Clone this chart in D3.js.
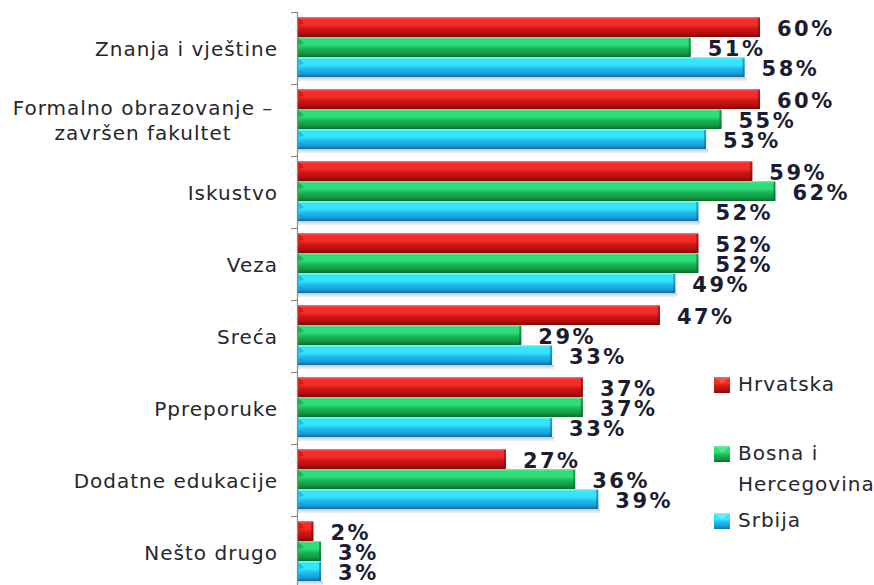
<!DOCTYPE html>
<html>
<head>
<meta charset="utf-8">
<script src="https://cdn.jsdelivr.net/npm/d3@7/dist/d3.min.js"></script>
<style>
  html, body { margin: 0; padding: 0; background: #fff; }
  svg { display: block; }
</style>
</head>
<body>
<svg id="chart" width="874" height="585"></svg>
<script>
// Category labels (multi-line where the label wraps)
const categories = [
  ["Znanja i vještine"],
  ["Formalno obrazovanje –", "završen fakultet"],
  ["Iskustvo"],
  ["Veza"],
  ["Sreća"],
  ["Ppreporuke"],
  ["Dodatne edukacije"],
  ["Nešto drugo"]
];
const seriesNames = ["Hrvatska", "Bosna i Hercegovina", "Srbija"];
const hrvatska = [60, 60, 59, 52, 47, 37, 27, 2];
const bih      = [51, 55, 62, 52, 29, 37, 36, 3];
const srbija   = [58, 53, 52, 49, 33, 33, 39, 3];
const series = [hrvatska, bih, srbija];

const palette = [
  { light: "#ff6a6a", top: "#f42c2c", mid: "#d41818", dark: "#ad0e0e", edge: "#7e0808" },
  { light: "#6ef0a4", top: "#2edc78", mid: "#1cb85a", dark: "#12933e", edge: "#0c6a2c" },
  { light: "#8af8ff", top: "#34e6fc", mid: "#20c4ee", dark: "#1897d2", edge: "#0e6c9e" }
];

const FONT = "DejaVu Sans, Verdana, sans-serif";
const svg = d3.select("#chart");
const defs = svg.append("defs");

palette.forEach((p, i) => {
  const g = defs.append("linearGradient")
    .attr("id", "bar" + i).attr("x1", 0).attr("y1", 0).attr("x2", 0).attr("y2", 1);
  [[0, p.light], [0.12, p.top], [0.4, p.top], [0.55, p.mid], [0.85, p.dark], [1, p.edge]]
    .forEach(([o, c]) => g.append("stop").attr("offset", o).attr("stop-color", c));
});
const sh = defs.append("linearGradient")
  .attr("id", "shadow").attr("x1", 0).attr("y1", 0).attr("x2", 0).attr("y2", 1);
sh.append("stop").attr("offset", 0).attr("stop-color", "#c8c8c8");
sh.append("stop").attr("offset", 1).attr("stop-color", "#ffffff");

const axisX = 297;
const x = d3.scaleLinear().domain([0, 100]).range([axisX + 1, axisX + 771]);
const y = d3.scaleBand().domain(d3.range(categories.length)).range([12, 12 + 72 * categories.length]);
const barH = 20;
const barTop = 5;

// bar groups
const groups = svg.append("g").selectAll("g")
  .data(categories.map((c, i) => i))
  .join("g")
  .attr("transform", i => `translate(0,${y(i)})`);

// soft shadow under each group
groups.append("rect")
  .attr("x", x(0))
  .attr("y", barTop + 3 * barH)
  .attr("width", i => x(series[2][i]) - x(0) + 2)
  .attr("height", 5)
  .attr("fill", "url(#shadow)");

series.forEach((vals, si) => {
  const p = palette[si];
  const bars = groups.append("g")
    .attr("transform", `translate(0,${barTop + si * barH})`);
  bars.append("rect")
    .attr("x", x(0))
    .attr("y", 0)
    .attr("width", i => x(vals[i]) - x(0))
    .attr("height", barH)
    .attr("fill", `url(#bar${si})`);
  // left bevel
  bars.append("path")
    .attr("d", i => `M${x(0)},1 L${x(0) + 6},6 L${x(0)},9 Z`)
    .attr("fill", p.dark).attr("opacity", 0.55);
  // right end edge
  bars.append("rect")
    .attr("x", i => x(vals[i]) - 2)
    .attr("y", 1)
    .attr("width", 2)
    .attr("height", barH - 2)
    .attr("fill", p.edge).attr("opacity", 0.6);
  // value labels
  bars.append("text")
    .attr("x", i => x(vals[i]) + 17)
    .attr("y", barH / 2 + 3)
    .attr("dominant-baseline", "middle")
    .attr("font-family", FONT)
    .attr("font-weight", "bold")
    .attr("font-size", 21)
    .attr("letter-spacing", 2.5)
    .attr("fill", "#1c1c30")
    .text(i => vals[i] + "%");
});

// axis
svg.append("line")
  .attr("x1", axisX + 0.5).attr("x2", axisX + 0.5)
  .attr("y1", 12).attr("y2", 585)
  .attr("stroke", "#8a8a8a").attr("stroke-width", 1.2);
svg.append("g").selectAll("line")
  .data(d3.range(categories.length + 1))
  .join("line")
  .attr("x1", axisX - 6).attr("x2", axisX)
  .attr("y1", i => 12 + 72 * i + 0.5).attr("y2", i => 12 + 72 * i + 0.5)
  .attr("stroke", "#8a8a8a").attr("stroke-width", 1.2);

// category labels
const catText = svg.append("g").selectAll("text")
  .data(categories)
  .join("text")
  .attr("font-family", FONT)
  .attr("font-size", 20)
  .attr("letter-spacing", 1)
  .attr("fill", "#26262e");
catText.each(function (lines, i) {
  const cy = y(i) + 38;
  const lh = 25;
  const t = d3.select(this);
  const multi = lines.length > 1;
  t.attr("text-anchor", multi ? "middle" : "end");
  lines.forEach((ln, k) => {
    t.append("tspan")
      .attr("x", multi ? 143 : 278)
      .attr("y", cy + (k - (lines.length - 1) / 2) * lh)
      .attr("dominant-baseline", "middle")
      .text(ln);
  });
});

// legend
const legendItems = [
  { lines: ["Hrvatska"], y: 385 },
  { lines: ["Bosna i", "Hercegovina"], y: 454 },
  { lines: ["Srbija"], y: 521 }
];
const leg = svg.append("g").selectAll("g")
  .data(legendItems)
  .join("g");
leg.append("rect")
  .attr("x", 714).attr("y", d => d.y - 8)
  .attr("width", 16).attr("height", 16)
  .attr("fill", (d, i) => `url(#bar${i})`);
leg.append("path")
  .attr("d", d => `M714,${d.y - 8} L722,${d.y - 1} L730,${d.y - 8} Z`)
  .attr("fill", (d, i) => palette[i].light).attr("opacity", 0.5);
leg.append("text")
  .attr("font-family", FONT)
  .attr("font-size", 20)
  .attr("letter-spacing", 1)
  .attr("fill", "#26262e")
  .each(function (d) {
    const t = d3.select(this);
    d.lines.forEach((ln, k) => {
      t.append("tspan")
        .attr("x", 738)
        .attr("y", d.y + k * 31)
        .attr("dominant-baseline", "middle")
        .text(ln);
    });
  });
</script>
</body>
</html>
